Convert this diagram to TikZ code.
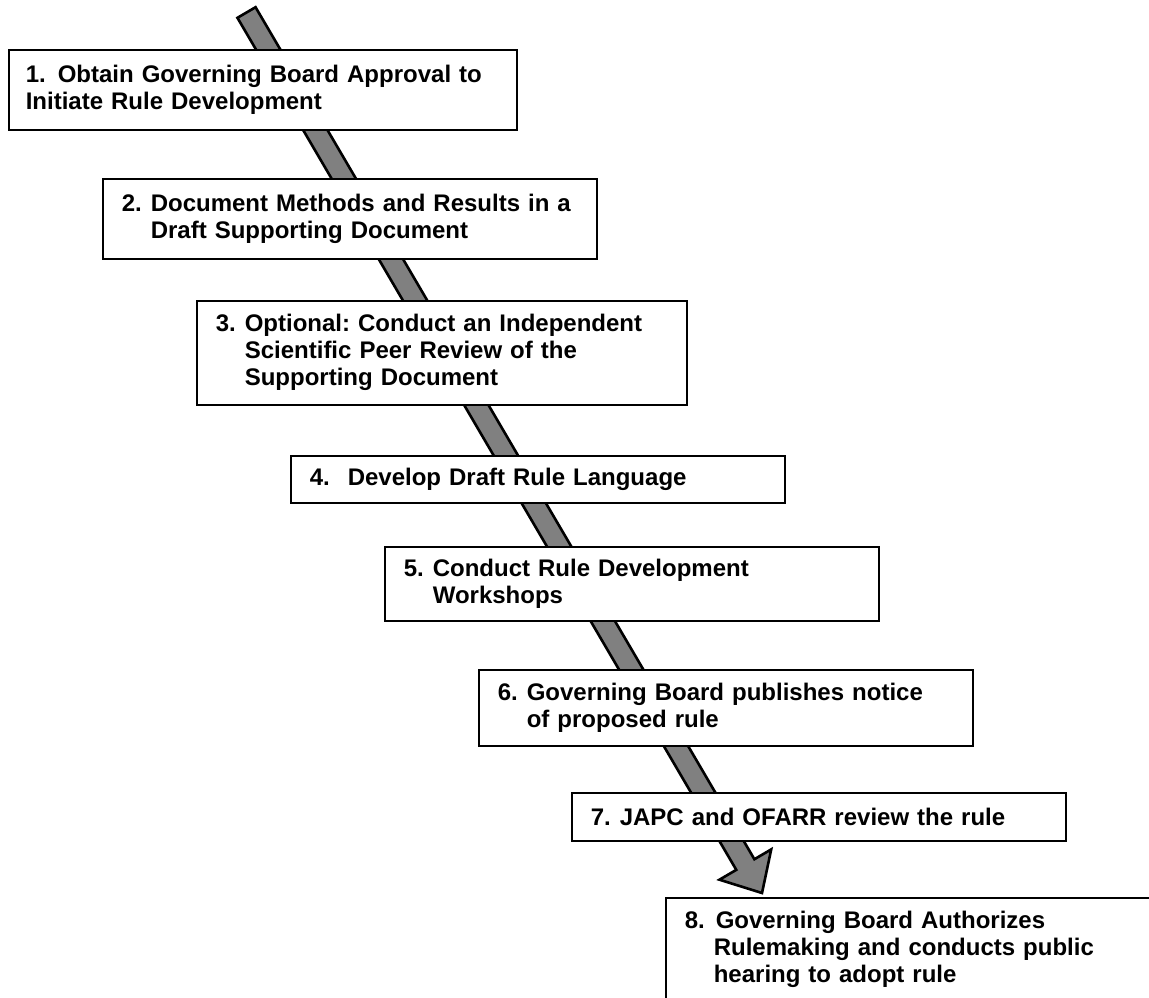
\documentclass[tikz,border=0pt]{standalone}
\usepackage{fontspec}
\setmainfont{Liberation Sans}
\usetikzlibrary{calc, positioning}
\frenchspacing

\definecolor{arrowgrey}{HTML}{808080}
\newcommand{\stagenum}[2][14.5pt]{\makebox[#1][l]{#2}}
\newcommand{\stageindent}{\hspace*{14.5pt}}

\begin{document}
\begin{tikzpicture}[x=0.5pt, y=-0.5pt,
  stage/.style={draw, fill=white, line width=0.8pt, anchor=north west,
    align=left, text width=228pt, inner xsep=9.5pt, inner ysep=0pt,
    font=\fontsize{12}{13.5}\selectfont\bfseries}
 ]
 \clip (0,0) rectangle (1149,997);

 % the big arrow behind the boxes
 \coordinate (tail) at (246.5,12.5);
 \coordinate (tip) at (762,893);
 \coordinate (neck) at ($(tip)!16.5pt!(tail)$);
 \draw [fill=arrowgrey, line width=1.3pt, line join=miter]
  ($(tail)!5.25pt!90:(tip)$) -- ($(neck)!5.25pt!-90:(tail)$)
  -- ($(neck)!15pt!-90:(tail)$) -- (tip)
  -- ($(neck)!15pt!90:(tail)$) -- ($(neck)!5.25pt!90:(tail)$)
  -- ($(tail)!5.25pt!-90:(tip)$) -- cycle;

 \node [stage, text width=237pt, inner xsep=8.5pt, minimum height=40pt] (s1) at (8,49)
  {\stagenum[16pt]{1.}Obtain Governing Board Approval to\\Initiate Rule Development};
 \node [stage, minimum height=40pt] (s2) at (102,178)
  {\stagenum{2.}Document Methods and Results in a\\\stageindent Draft Supporting Document};
 \node [stage, text width=226pt, minimum height=52pt] (s3) at (196,300)
  {\stagenum{3.}Optional: Conduct an Independent\\\stageindent Scientific Peer Review of the\\\stageindent Supporting Document};
 \node [stage, minimum height=23.5pt] (s4) at (290,455)
  {\stagenum[19pt]{4.}Develop Draft Rule Language};
 \node [stage, minimum height=37pt] (s5) at (384,546)
  {\stagenum{5.}Conduct Rule Development\\\stageindent Workshops};
 \node [stage, minimum height=38pt] (s6) at (478,669)
  {\stagenum{6.}Governing Board publishes notice\\\stageindent of proposed rule};
 \node [stage, minimum height=24pt] (s7) at (571,792)
  {\stagenum{7.}JAPC and OFARR review the rule};
 \node [stage, minimum height=52pt] (s8) at (665,897)
  {\stagenum[15.5pt]{8.}Governing Board Authorizes\\\stageindent Rulemaking and conducts public\\\stageindent hearing to adopt rule};
\end{tikzpicture}
\end{document}
